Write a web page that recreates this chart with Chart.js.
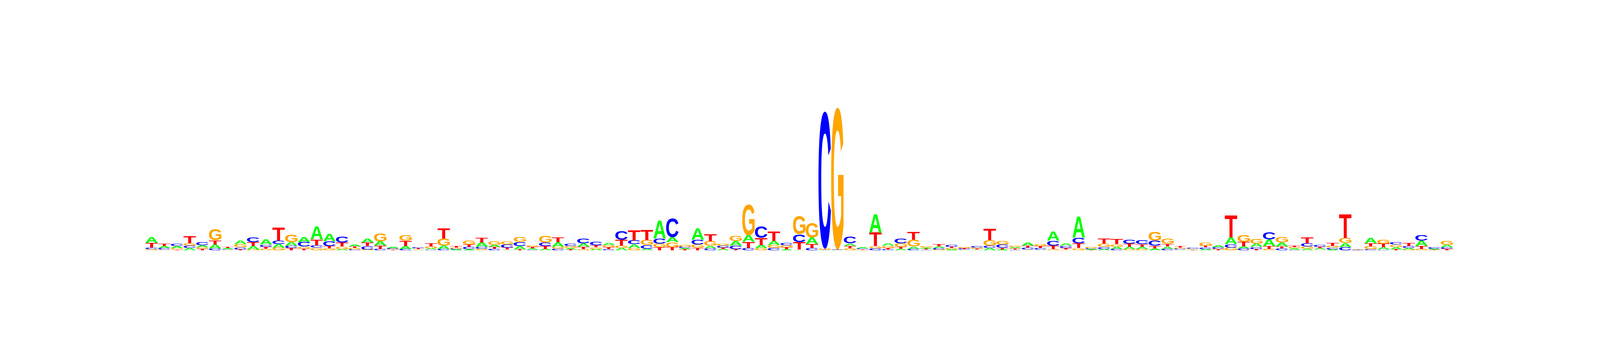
<!DOCTYPE html>
<html><head><meta charset="utf-8">
<script src="https://cdn.jsdelivr.net/npm/chart.js@4.4.1/dist/chart.umd.min.js"></script>
<style>html,body{margin:0;padding:0;background:#fff;overflow:hidden}#wrap{width:100vw;height:100vh;position:relative}</style>
</head><body><div id="wrap"><canvas id="c"></canvas></div>
<script>
// information content (bits) per position
const bitsA = [.083,.027,.025,.030,.027,.053,.015,.045,.044,.071,.046,.044,.071,.177,.105,.018,.025,.057,.059,.015,
.041,.006,.018,.044,.010,.014,.060,.028,.009,.048,.016,.018,.062,.018,.048,.018,.035,.031,.050,.023,
.245,.067,.016,.160,.035,.018,.062,.089,.039,.057,.014,.009,.092,.005,.004,.035,.015,.255,.035,.021,
.035,.015,.023,.012,.008,.009,.030,.012,.018,.039,.009,.122,.032,.289,.010,.018,.030,.032,.030,.027,
.034,.009,.008,.018,.024,.092,.028,.044,.089,.053,.016,.021,.018,.012,.057,.006,.076,.032,.030,.021,
.074,.010,.030];
const bitsC = [.023,.021,.035,.031,.041,.027,.009,.030,.066,.030,.048,.035,.059,.036,.062,.083,.012,.044,.018,.012,
.018,.012,.009,.018,.013,.032,.027,.021,.041,.057,.009,.050,.021,.031,.062,.045,.014,.117,.052,.050,
.071,.257,.018,.062,.027,.025,.048,.032,.160,.032,.033,.106,.032,1.87,.004,.087,.012,.027,.012,.062,
.018,.008,.018,.027,.010,.020,.035,.044,.009,.027,.021,.066,.030,.076,.012,.027,.018,.057,.057,.071,
.018,.013,.010,.023,.022,.044,.027,.030,.098,.025,.009,.041,.027,.023,.044,.003,.014,.009,.036,.028,
.075,.018,.022];
const bitsG = [.014,.009,.023,.035,.022,.152,.008,.043,.012,.021,.039,.106,.030,.035,.027,.035,.021,.012,.112,.010,
.076,.008,.027,.099,.015,.053,.021,.050,.042,.059,.023,.094,.027,.030,.014,.023,.028,.033,.032,.067,
.048,.066,.027,.041,.059,.028,.071,.417,.032,.041,.030,.248,.195,.010,1.93,.027,.006,.030,.027,.048,
.089,.018,.012,.018,.013,.016,.074,.050,.020,.009,.030,.014,.009,.030,.018,.044,.035,.018,.018,.115,
.071,.013,.008,.044,.012,.039,.089,.066,.018,.080,.019,.032,.009,.025,.071,.003,.038,.053,.035,.012,
.018,.005,.057];
const bitsT = [.062,.030,.009,.098,.021,.054,.016,.012,.057,.027,.177,.030,.021,.074,.030,.053,.022,.048,.044,.008,
.071,.011,.039,.138,.020,.033,.064,.027,.030,.012,.020,.039,.064,.012,.032,.027,.027,.080,.137,.138,
.041,.044,.014,.037,.098,.020,.014,.083,.096,.133,.027,.103,.051,.005,.004,.030,.008,.181,.022,.027,
.106,.014,.030,.019,.012,.014,.154,.023,.016,.028,.028,.050,.023,.064,.006,.066,.066,.039,.034,.034,
.036,.018,.006,.024,.010,.298,.062,.018,.039,.028,.023,.080,.019,.041,.323,.005,.042,.051,.012,.039,
.041,.008,.020];
const positions = bitsA.map((_, i) => String(i + 1));
const letters = ['A','C','G','T'];
const letterColors = {A:'#00FF00', C:'#0000FF', G:'#FFA500', T:'#FF0000'};
const series = {A:bitsA, C:bitsC, G:bitsG, T:bitsT};

const logoPlugin = {
  id: 'logo',
  afterDatasetsDraw(chart) {
    const ctx = chart.ctx, xs = chart.scales.x, ys = chart.scales.y;
    const w = xs.getPixelForValue(1) - xs.getPixelForValue(0);
    ctx.save();
    ctx.font = 'bold 200px "Liberation Sans", Arial, sans-serif';
    ctx.textAlign = 'left'; ctx.textBaseline = 'alphabetic';
    const metrics = {};
    letters.forEach(l => { metrics[l] = ctx.measureText(l); });
    const gap = w * 0.01;
    for (let i = 0; i < positions.length; i++) {
      const col = letters.map(l => ({l, v: series[l][i]})).sort((a, b) => a.v - b.v);
      const cx = xs.getPixelForValue(i);
      const x0 = cx - w / 2 + gap, gw = w - 2 * gap;
      let cum = 0;
      col.forEach(({l, v}) => {
        const yb = ys.getPixelForValue(cum);
        cum += v;
        const yt = ys.getPixelForValue(cum);
        const h = yb - yt;
        if (h <= 0.2) return;
        const m = metrics[l];
        const left = m.actualBoundingBoxLeft, right = m.actualBoundingBoxRight;
        const asc = m.actualBoundingBoxAscent, desc = m.actualBoundingBoxDescent;
        ctx.save();
        ctx.translate(x0, yt);
        ctx.scale(gw / (left + right), h / (asc + desc));
        ctx.fillStyle = letterColors[l];
        ctx.fillText(l, left, asc);
        ctx.restore();
      });
    }
    ctx.restore();
  }
};

const W = window.innerWidth, H = window.innerHeight;
new Chart(document.getElementById('c'), {
  type: 'bar',
  data: {
    labels: positions,
    datasets: letters.map(l => ({label: l, data: series[l], backgroundColor: 'rgba(0,0,0,0)', borderWidth: 0}))
  },
  options: {
    responsive: true, maintainAspectRatio: false, animation: false,
    layout: {padding: {left: W * 0.0908, right: W * 0.0917, top: H * 0.2933, bottom: H * 0.2889}},
    scales: {
      x: {display: false, stacked: true, offset: true},
      y: {display: false, stacked: true, min: 0, max: 2}
    },
    plugins: {legend: {display: false}, tooltip: {enabled: false}}
  },
  plugins: [logoPlugin]
});
</script></body></html>
